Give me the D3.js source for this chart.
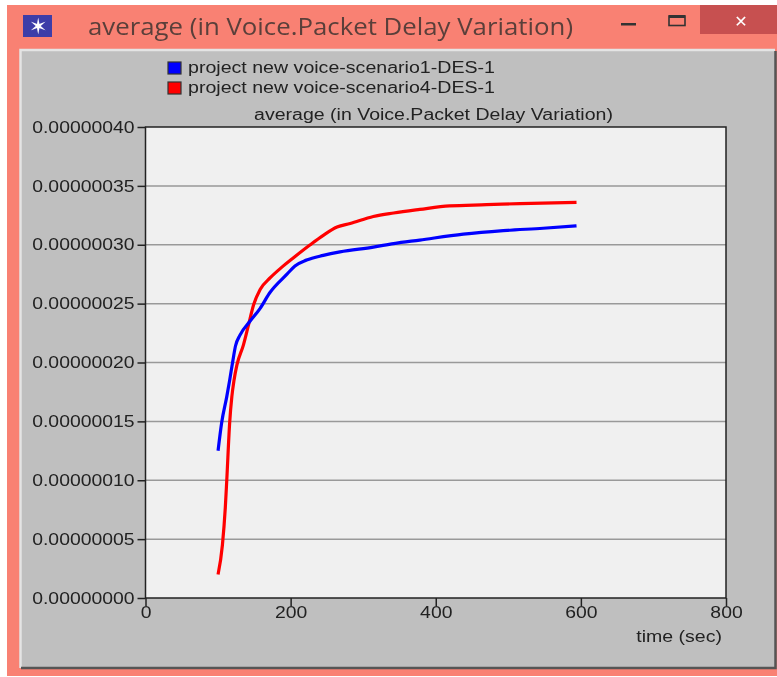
<!DOCTYPE html>
<html>
<head>
  <meta charset="utf-8">
  <script src="https://d3js.org/d3.v7.min.js"></script>
  <style>
    html, body { margin: 0; padding: 0; background: #fff; }
    svg { display: block; filter: blur(0.45px); }
    text { font-family: "Liberation Sans", Arial, sans-serif; }
  </style>
</head>
<body>
  <script>
    var chartTitle = "average (in Voice.Packet Delay Variation)",
      xLabel = "time (sec)";

    var seriesNames = ["project new voice-scenario1-DES-1", "project new voice-scenario4-DES-1"],
      seriesColors = ["#0000ff", "#ff0000"];

    var xTicks = [0, 200, 400, 600, 800],
      yTicks = [0, 0.00000005, 0.0000001, 0.00000015, 0.0000002, 0.00000025, 0.0000003, 0.00000035, 0.0000004];

    var blueTime = [100, 105, 112, 116, 120, 124, 130, 144, 158, 171, 195, 206, 222, 245, 268, 314, 342, 378, 438, 493, 548, 594],
      blueValue = [0.000000125, 0.000000149, 0.000000171, 0.000000185, 0.0000002, 0.000000214, 0.000000223, 0.000000235, 0.000000246, 0.000000259, 0.000000275, 0.000000282, 0.000000287, 0.000000291, 0.000000294, 0.000000298, 0.000000301, 0.000000304, 0.000000309, 0.000000312, 0.000000314, 0.000000316];

    var redTime = [100, 106, 110, 112, 116, 119, 122, 126, 135, 142, 149, 158, 172, 188, 204, 227, 245, 264, 282, 314, 342, 378, 419, 470, 516, 594],
      redValue = [0.00000002, 0.000000045, 0.000000077, 0.0000001, 0.000000149, 0.000000171, 0.000000185, 0.000000198, 0.000000215, 0.000000232, 0.000000249, 0.000000262, 0.000000272, 0.000000281, 0.000000289, 0.0000003, 0.000000308, 0.000000315, 0.000000318, 0.000000324, 0.000000327, 0.00000033, 0.000000333, 0.000000334, 0.000000335, 0.000000336];

    var width = 777,
      height = 677;
    var plot = { left: 145.5, right: 726, top: 127, bottom: 598 };

    var svg = d3.select("body").append("svg")
      .attr("width", width)
      .attr("height", height);

    // the labels in the screenshot are wider than the font, stretch them
    function stretch(sel, k) {
      sel.each(function () {
        d3.select(this)
          .attr("textLength", this.getComputedTextLength() * k)
          .attr("lengthAdjust", "spacingAndGlyphs");
      });
    }

    // window frame
    svg.append("rect").attr("x", 7).attr("y", 5).attr("width", 770).attr("height", 671).attr("fill", "#f98173");
    svg.append("rect").attr("x", 700).attr("y", 5).attr("width", 77).attr("height", 29).attr("fill", "#c75050");

    // window icon
    svg.append("rect").attr("x", 23).attr("y", 15).attr("width", 29).attr("height", 22).attr("fill", "#3d3da8");
    svg.append("text").attr("x", 37.5).attr("y", 33.5).attr("text-anchor", "middle")
      .attr("font-size", 22).attr("fill", "#fff").text("\u2736");

    svg.append("text").attr("x", 88).attr("y", 35)
      .style("font-family", "'Open Sans', sans-serif")
      .attr("font-size", 23).attr("fill", "#5a3f3a").text(chartTitle)
      .attr("textLength", 485).attr("lengthAdjust", "spacingAndGlyphs");

    // min / max / close
    svg.append("rect").attr("x", 621).attr("y", 23).attr("width", 15).attr("height", 2.5).attr("fill", "#333");
    svg.append("rect").attr("x", 669).attr("y", 16).attr("width", 16).attr("height", 9.5)
      .attr("fill", "none").attr("stroke", "#333").attr("stroke-width", 1.6);
    svg.append("rect").attr("x", 669).attr("y", 15).attr("width", 16).attr("height", 3).attr("fill", "#333");
    svg.append("text").attr("x", 741).attr("y", 27).attr("text-anchor", "middle")
      .style("font-family", "'DejaVu Sans', sans-serif")
      .attr("font-size", 16).attr("font-weight", "bold").attr("fill", "#fff").text("\u2715");

    // grey panel
    svg.append("rect").attr("x", 20).attr("y", 49).attr("width", 755).attr("height", 619).attr("fill", "#bfbfbf");
    svg.append("path").attr("d", "M20.5,668V50H775").attr("fill", "none").attr("stroke", "#e4e4e4").attr("stroke-width", 2.5);
    svg.append("path").attr("d", "M21,668H775.5V51").attr("fill", "none").attr("stroke", "#555").attr("stroke-width", 2.5);

    var x = d3.scaleLinear().domain([0, 800]).range([plot.left, plot.right]);
    var y = d3.scaleLinear().domain([0, 0.0000004]).range([plot.bottom, plot.top]);

    svg.append("rect")
      .attr("x", plot.left).attr("y", plot.top)
      .attr("width", plot.right - plot.left).attr("height", plot.bottom - plot.top)
      .attr("fill", "#f0f0f0");

    svg.append("g").selectAll("line")
      .data(yTicks.slice(1, -1))
      .enter().append("line")
      .attr("x1", plot.left).attr("x2", plot.right)
      .attr("y1", function (d) { return y(d); })
      .attr("y2", function (d) { return y(d); })
      .attr("stroke", "#999").attr("stroke-width", 1.5);

    svg.append("rect")
      .attr("x", plot.left).attr("y", plot.top)
      .attr("width", plot.right - plot.left).attr("height", plot.bottom - plot.top)
      .attr("fill", "none").attr("stroke", "#222").attr("stroke-width", 1.5);

    var xAxis = d3.axisBottom(x).tickValues(xTicks).tickSize(8).tickPadding(1).tickFormat(d3.format("d"));
    var yAxis = d3.axisLeft(y).tickValues(yTicks).tickSize(8).tickPadding(3)
      .tickFormat(function (d) { return d.toFixed(8); });

    [svg.append("g").attr("transform", "translate(0," + plot.bottom + ")").call(xAxis),
     svg.append("g").attr("transform", "translate(" + plot.left + ",0)").call(yAxis)].forEach(function (g) {
      g.select(".domain").remove();
      g.selectAll("line").attr("stroke", "#222").attr("stroke-width", 1.5);
      g.selectAll("text").attr("font-size", 16).attr("fill", "#222")
        .style("font-family", "'Liberation Sans', Arial, sans-serif")
        .call(stretch, 1.21);
    });

    svg.append("text").attr("x", 433.5).attr("y", 120).attr("text-anchor", "middle")
      .attr("font-size", 16).attr("fill", "#222").text(chartTitle)
      .call(stretch, 1.22);
    svg.append("text").attr("x", 722).attr("y", 642).attr("text-anchor", "end")
      .attr("font-size", 16).attr("fill", "#222").text(xLabel)
      .call(stretch, 1.22);

    // legend
    var legend = svg.append("g").selectAll("g")
      .data(seriesNames)
      .enter().append("g")
      .attr("transform", function (d, i) { return "translate(168," + (62 + i * 20) + ")"; });
    legend.append("rect").attr("width", 13).attr("height", 12)
      .attr("fill", function (d, i) { return seriesColors[i]; })
      .attr("stroke", "#333").attr("stroke-width", 1.2);
    legend.append("text").attr("x", 20).attr("y", 11)
      .attr("font-size", 16).attr("fill", "#222")
      .text(function (d) { return d; })
      .call(stretch, 1.224);

    var line = d3.line()
      .curve(d3.curveMonotoneX)
      .x(function (d) { return x(d[0]); })
      .y(function (d) { return y(d[1]); });

    svg.append("path")
      .datum(d3.zip(redTime, redValue))
      .attr("fill", "none").attr("stroke", seriesColors[1]).attr("stroke-width", 3.2)
      .attr("d", line);
    svg.append("path")
      .datum(d3.zip(blueTime, blueValue))
      .attr("fill", "none").attr("stroke", seriesColors[0]).attr("stroke-width", 3.2)
      .attr("d", line);
  </script>
</body>
</html>
